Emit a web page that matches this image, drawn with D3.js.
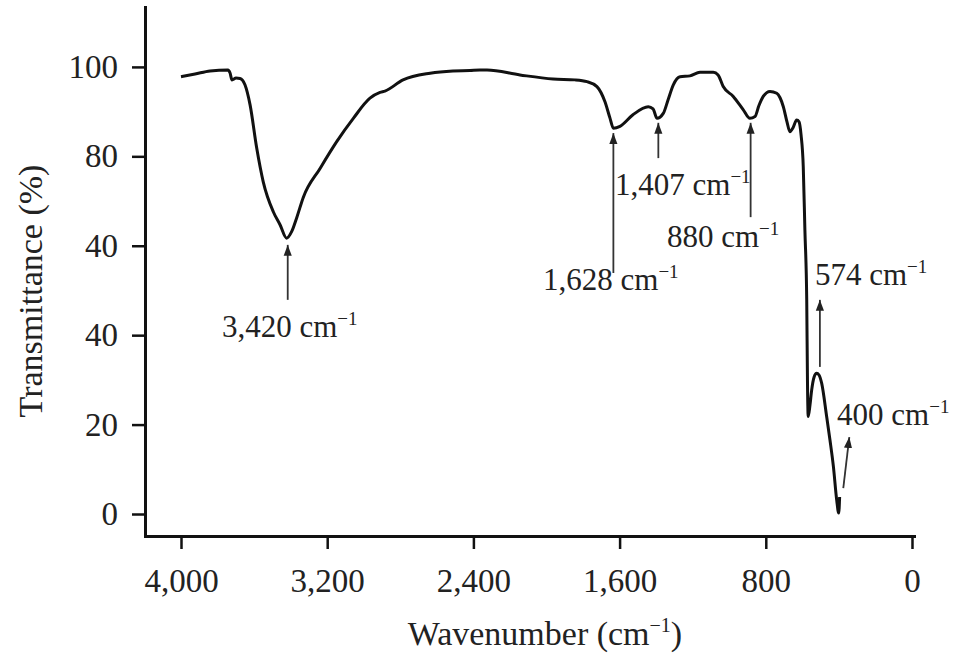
<!DOCTYPE html>
<html>
<head>
<meta charset="utf-8">
<script src="https://cdn.jsdelivr.net/npm/d3@7"></script>
<style>
  html, body { margin: 0; padding: 0; background: #ffffff; }
  svg { display: block; }
  text { font-family: "Liberation Serif", "Times New Roman", serif; fill: #222; }
</style>
</head>
<body>
<svg id="chart" width="953" height="659"></svg>
<script>
// ---- data ----
const wavenumber = [4000, 3923, 3841, 3743, 3732, 3721, 3699, 3677, 3650, 3622, 3586, 3550, 3495, 3458, 3422, 3394, 3365, 3331, 3239, 3148, 3057, 2966, 2911, 2884, 2785, 2637, 2512, 2419, 2364, 2325, 2145, 1964, 1844, 1778, 1724, 1680, 1653, 1634, 1598, 1527, 1443, 1417, 1395, 1361, 1335, 1306, 1269, 1215, 1160, 1087, 1061, 1033, 978, 923, 887, 859, 838, 814, 777, 740, 722, 704, 684, 668, 651, 631, 618, 607, 595, 586, 576, 572, 568, 558, 549, 536, 522, 509, 494, 467, 449, 430, 412, 401, 396];
const transmittance = [97.8, 98.4, 99.1, 99.3, 98.7, 97.1, 97.5, 97.4, 96.0, 91.5, 81.9, 74.3, 67.6, 64.7, 61.7, 63.2, 66.5, 70.8, 77.3, 83.3, 88.5, 93.0, 94.3, 94.6, 97.1, 98.6, 99.1, 99.2, 99.3, 99.3, 98.2, 97.3, 97.1, 96.7, 95.6, 92.2, 88.6, 86.3, 86.7, 89.3, 91.1, 90.6, 88.5, 89.6, 92.6, 96.0, 97.8, 98.0, 98.8, 98.8, 98.2, 95.6, 93.4, 90.4, 88.5, 88.9, 91.3, 93.4, 94.5, 94.1, 93.1, 91.1, 87.7, 85.5, 86.4, 88.1, 87.7, 84.8, 77.7, 63.5, 47.9, 30.0, 21.8, 24.4, 27.7, 30.6, 31.5, 31.1, 29.2, 21.8, 16.6, 10.6, 3.1, 0.2, 3.8];

const xTickValues = [4000, 3200, 2400, 1600, 800, 0];
const xTickLabels = ["4,000", "3,200", "2,400", "1,600", "800", "0"];
const yTickValues = [0, 20, 40, 60, 80, 100];
const yTickLabels = ["0", "20", "40", "40", "80", "100"];   // as printed in the reference

const peakLabels = ["3,420", "1,628", "1,407", "880", "574", "400"];
// arrow geometry in data units: wavenumber of tail/tip, transmittance of tail/tip
const arrowTailW = [3416, 1634, 1388, 883, 504, 376];
const arrowTipW  = [3416, 1634, 1388, 883, 504, 343];
const arrowTailT = [47.9, 53.9, 79.6, 66.4, 32.9, 5.8];
const arrowTipT  = [60.2, 85.2, 87.5, 87.5, 47.9, 17.2];
// label anchor (left edge, baseline) in data units
const labelW = [3776, 2019, 1625, 1341, 531, 410];
const labelT = [39.6, 50.1, 71.4, 59.7, 51.2, 19.9];

// ---- layout ----
const svg = d3.select("#chart");
const x = d3.scaleLinear().domain([4197, -11]).range([145, 914]);
const y = d3.scaleLinear().domain([-4.92, 113.4]).range([536, 7]);

// axes
const gx = svg.append("g").attr("transform", "translate(0,536)")
  .call(d3.axisBottom(x).tickValues(xTickValues)
    .tickFormat((d, i) => xTickLabels[i]).tickSizeInner(13).tickSizeOuter(0).tickPadding(20));
const gy = svg.append("g").attr("transform", "translate(145,0)")
  .call(d3.axisLeft(y).tickValues(yTickValues)
    .tickFormat((d, i) => yTickLabels[i]).tickSizeInner(13).tickSizeOuter(0).tickPadding(14));

[gx, gy].forEach(g => {
  g.select(".domain").attr("stroke", "#111").attr("stroke-width", 3).attr("stroke-linecap", "square");
  g.selectAll(".tick line").attr("stroke", "#111").attr("stroke-width", 2.5);
  g.selectAll(".tick text").attr("font-size", 33)
    .style("font-family", '"Liberation Serif", "Times New Roman", serif').attr("fill", "#222");
});

// spectrum line
const pts = wavenumber.map((w, i) => [w, transmittance[i]]);
svg.append("path")
  .datum(pts)
  .attr("fill", "none")
  .attr("stroke", "#111")
  .attr("stroke-width", 3)
  .attr("stroke-linejoin", "round")
  .attr("d", d3.line().x(d => x(d[0])).y(d => y(d[1])).curve(d3.curveMonotoneX));

// arrow marker
svg.append("defs").append("marker")
  .attr("id", "ah").attr("viewBox", "0 0 10 10")
  .attr("refX", 10).attr("refY", 5)
  .attr("markerWidth", 11).attr("markerHeight", 11)
  .attr("markerUnits", "userSpaceOnUse")
  .attr("orient", "auto")
  .append("path").attr("d", "M0,1.3 L10,5 L0,8.7 Z").attr("fill", "#222");

peakLabels.forEach((lab, i) => {
  svg.append("line")
    .attr("x1", x(arrowTailW[i])).attr("y1", y(arrowTailT[i]))
    .attr("x2", x(arrowTipW[i])).attr("y2", y(arrowTipT[i]))
    .attr("stroke", "#333").attr("stroke-width", 1.8)
    .attr("marker-end", "url(#ah)");
  const t = svg.append("text")
    .attr("x", x(labelW[i])).attr("y", y(labelT[i]))
    .attr("font-size", 31);
  t.append("tspan").text(lab + " cm");
  t.append("tspan").attr("font-size", 19).attr("dy", -12).text("\u22121");
});

// axis titles
const xt = svg.append("text")
  .attr("x", 545).attr("y", 645)
  .attr("text-anchor", "middle").attr("font-size", 34);
xt.append("tspan").text("Wavenumber (cm");
xt.append("tspan").attr("font-size", 20).attr("dy", -13).text("\u22121");
xt.append("tspan").attr("dy", 13).text(")");

svg.append("text")
  .attr("transform", "translate(42,291) rotate(-90)")
  .attr("text-anchor", "middle").attr("font-size", 34)
  .text("Transmittance (%)");
</script>
</body>
</html>
